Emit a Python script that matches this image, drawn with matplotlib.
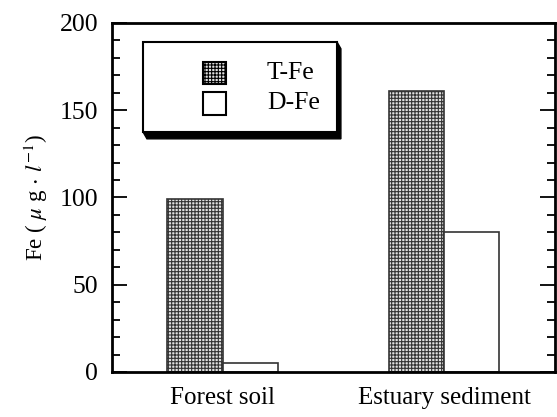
import numpy as np
import matplotlib
matplotlib.use("Agg")
import matplotlib.pyplot as plt
from matplotlib.patches import Rectangle, Polygon
from matplotlib.ticker import MultipleLocator

plt.rcParams['font.family'] = ['Liberation Serif', 'DejaVu Serif']
plt.rcParams['mathtext.fontset'] = 'stix'
plt.rcParams['hatch.color'] = '#939393'
plt.rcParams['hatch.linewidth'] = 0.8

sites = ['Forest soil', 'Estuary sediment']
t_fe = [99, 161]
d_fe = [5, 80]
series_names = ['T-Fe', 'D-Fe']

fig = plt.figure(figsize=(5.57, 4.17), dpi=100)
ax = fig.add_axes([0.201, 0.108, 0.795, 0.837])

x = np.arange(len(sites))
w = 0.25
ax.bar(x - w / 2, t_fe, w, facecolor='#e0e0e0', edgecolor='#333333',
       linewidth=1.2, hatch='+++++')
ax.bar(x + w / 2, d_fe, w, facecolor='white', edgecolor='#333333',
       linewidth=1.2)

ax.set_xlim(-0.5, 1.5)
ax.set_ylim(0, 200)
ax.set_xticks(x)
ax.set_xticklabels(sites, fontsize=18)
ax.tick_params(axis='x', length=0, pad=11)
ax.yaxis.set_major_locator(MultipleLocator(50))
ax.yaxis.set_minor_locator(MultipleLocator(10))
ax.tick_params(axis='y', which='both', direction='in', left=True, right=True,
               labelsize=18.5, pad=10, width=1.3)
ax.tick_params(axis='y', which='major', length=11)
ax.tick_params(axis='y', which='minor', length=6)
for s in ax.spines.values():
    s.set_linewidth(2.0)
ax.set_ylabel(r'Fe ( $\mu$ g $\cdot$ $l^{-1}$)', fontsize=16.5, labelpad=7)

# legend box with a solid drop shadow
bx0, bx1, by0, by1 = 0.070, 0.508, 0.688, 0.946
dx, dy = 4 / 443, -7 / 349
shadow = Polygon([(bx0, by0), (bx0 + dx, by0 + dy), (bx1 + dx, by0 + dy),
                  (bx1 + dx, by1 + dy), (bx1, by1)], closed=True,
                 transform=ax.transAxes, facecolor='black', edgecolor='black',
                 zorder=4)
ax.add_patch(shadow)
ax.add_patch(Rectangle((bx0, by0), bx1 - bx0, by1 - by0, transform=ax.transAxes,
                       facecolor='white', edgecolor='black', linewidth=1.5,
                       zorder=5))
ax.add_patch(Rectangle((0.205, 0.825), 0.052, 0.063, transform=ax.transAxes,
                       facecolor='#e0e0e0', edgecolor='black', linewidth=1.5,
                       hatch='+++++', zorder=6))
ax.add_patch(Rectangle((0.205, 0.736), 0.052, 0.066, transform=ax.transAxes,
                       facecolor='white', edgecolor='black', linewidth=1.5,
                       zorder=6))
ax.text(0.350, 0.857, series_names[0], transform=ax.transAxes, fontsize=18.5,
        va='center', ha='left', zorder=7)
ax.text(0.350, 0.771, series_names[1], transform=ax.transAxes, fontsize=18.5,
        va='center', ha='left', zorder=7)

fig.savefig('out.png', dpi=100)
